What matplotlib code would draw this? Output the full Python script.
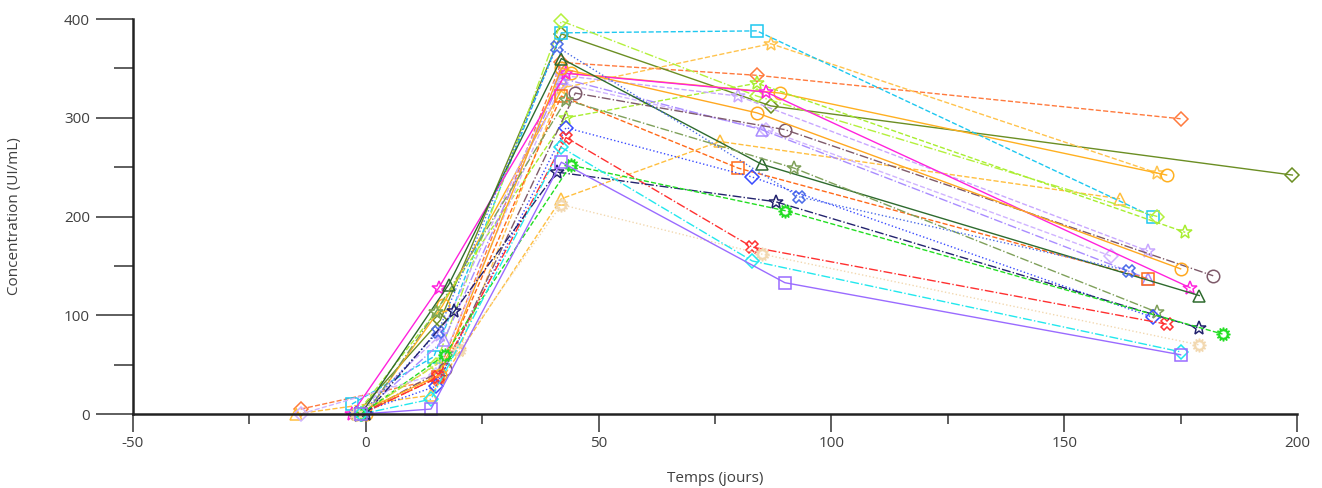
import matplotlib.pyplot as plt
from matplotlib.ticker import MultipleLocator

plt.rcParams['font.family'] = ['Open Sans', 'DejaVu Sans']
plt.rcParams['axes.unicode_minus'] = False

# days of sampling for each patient
days = [
    [-14, 15, 42, 84, 175],
    [-2, 16, 42, 87, 199],
    [-1, 20, 42, 87, 170],
    [0, 16.5, 44, 89, 172],
    [-15, 14, 42, 76, 162],
    [-3, 14.6, 42, 84, 169],
    [-1, 15, 42, 84, 170],
    [-2, 15, 43, 84, 176],
    [-2, 16, 42, 80, 168],
    [-14, 15, 42, 86, 160],
    [-1, 16.8, 42, 85, 168],
    [-1, 15.5, 42, 80, 168],
    [-3, 15.7, 43, 86, 177],
    [-1, 17, 45, 90, 182],
    [-2, 16, 42, 84, 175],
    [-1, 17.8, 42, 85, 179],
    [0, 15, 43, 92, 170],
    [-1, 15.5, 41, 93, 164],
    [-2, 15, 43, 83, 169],
    [-1, 15.5, 43, 83, 172],
    [0, 19, 41, 88, 179],
    [-1, 17, 44, 90, 184],
    [-2, 20, 42, 85, 179],
    [-1, 14, 42, 83, 175],
    [-1, 14, 42, 90, 175],
]

# concentrations (UI/mL)
conc = [
    [5, 35, 356, 343, 299],
    [0, 95, 385, 312, 242],
    [0, 65, 330, 375, 244],
    [0, 110, 345, 325, 242],
    [0, 19, 218, 276, 218],
    [10, 58, 386, 388, 200],
    [0, 50, 398, 322, 200],
    [0, 103, 300, 335, 184],
    [0, 80, 343, 322, 165],
    [0, 40, 335, 288, 160],
    [0, 75, 340, 288, 137],
    [0, 37, 322, 249, 137],
    [0, 128, 345, 326, 128],
    [0, 46, 325, 288, 140],
    [0, 40, 350, 305, 147],
    [0, 131, 360, 253, 120],
    [0, 103, 318, 249, 103],
    [0, 83, 372, 220, 145],
    [0, 28, 290, 240, 98],
    [0, 37, 280, 169, 91],
    [0, 104, 245, 215, 87],
    [0, 60, 252, 206, 81],
    [0, 65, 212, 162, 70],
    [0, 15, 270, 155, 63],
    [0, 5, 255, 133, 60],
]

colors = ['#FF7A3D', '#6B8E23', '#FFC34D', '#FFB020', '#FFBF3F',
          '#1EC8F0', '#B4F03C', '#A8EE30', '#C9A8FF', '#D0B4FF',
          '#A98CFF', '#FF6A1A', '#FF22DD', '#7E5A6A', '#FFA820',
          '#2E6B2E', '#7FA05A', '#4A6BE8', '#3A4BFF', '#FF3030',
          '#23236E', '#22DD22', '#F2D8B0', '#22E8EE', '#9A6BFF']
markers = ['D', 'D', '*', 'o', '^',
           's', 'D', '*', '*', 'D',
           '^', 's', '*', 'o', 'o',
           '^', '*', 'X', 'D', 'X',
           '*', (12, 1, 0), (12, 1, 0), 'D', 's']
styles = ['--', '-', '--', '-', '--',
          '--', '-.', '--', '--', '--',
          '-.', '--', '-', '-.', '-',
          '-', '-.', ':', ':', '-.',
          '-.', '--', ':', '-.', '-']

fig = plt.figure(figsize=(13.22, 4.88), dpi=100)
ax = fig.add_axes([0.1006, 0.1516, 0.8805, 0.8094])

for d, c, col, m, ls in zip(days, conc, colors, markers, styles):
    ms = 10 if m in ('*', (12, 1, 0)) else 9
    if m == 'D':
        ms = 7.5
    ax.plot(d, c, color=col, linestyle=ls, linewidth=1.0, marker=m,
            markersize=ms, markerfacecolor='none', markeredgecolor=col,
            markeredgewidth=1.1, clip_on=False)

ax.set_xlim(-50, 200)
ax.set_ylim(0, 400)
ax.xaxis.set_major_locator(MultipleLocator(50))
ax.xaxis.set_minor_locator(MultipleLocator(25))
ax.yaxis.set_major_locator(MultipleLocator(100))
ax.yaxis.set_minor_locator(MultipleLocator(50))

for s in ['top', 'right']:
    ax.spines[s].set_visible(False)
for s in ['left', 'bottom']:
    ax.spines[s].set_linewidth(1.8)
    ax.spines[s].set_color('#222222')

ax.tick_params(axis='y', which='major', length=27, width=1.1, color='#333333',
               labelsize=11, labelcolor='#404040', pad=4)
ax.tick_params(axis='y', which='minor', length=14, width=1.1, color='#333333')
ax.tick_params(axis='x', which='major', length=13, width=1.1, color='#333333',
               labelsize=11, labelcolor='#404040', pad=3)
ax.tick_params(axis='x', which='minor', length=7, width=1.1, color='#333333')

ax.set_xlabel('Temps (jours)', fontsize=11, color='#404040', labelpad=14)
ax.set_ylabel('Concentration (UI/mL)', fontsize=11, color='#404040', labelpad=30)

plt.savefig('out.png', dpi=100)
